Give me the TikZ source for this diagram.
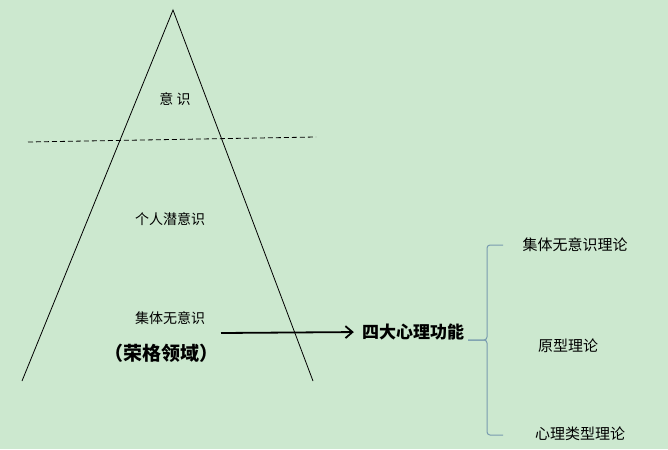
\documentclass[tikz,border=0pt]{standalone}
\usepackage{fontspec}
\newfontfamily\cjk{Noto Sans CJK SC}
\usetikzlibrary{positioning, arrows.meta}
\definecolor{eyegreen}{RGB}{204,232,207}
\definecolor{bracegray}{RGB}{120,155,175}

\begin{document}
\begin{tikzpicture}[x=1pt, y=-1pt]
		\tikzstyle{label}=[font=\cjk\fontsize{14}{16}\selectfont, inner sep=0pt]
		\tikzstyle{bold}=[font=\cjk\bfseries\fontsize{17}{19}\selectfont, inner sep=0pt]
		\tikzstyle{connect}=[-{Straight Barb[length=7pt, width=12pt]}, line width=1.8pt]
		\tikzstyle{brace}=[draw=bracegray, line width=1pt, rounded corners=3pt]
		
		\fill[eyegreen] (0,0) rectangle (668,449);
		\useasboundingbox (0,0) rectangle (668,449);
		
		% triangle and threshold
		\coordinate (apex) at (173,10);
		\coordinate (left) at (22,381);
		\coordinate (right) at (313,381);
		\draw[line width=0.8pt] (left) -- (apex) -- (right);
		\coordinate (dashl) at (28,142);
		\coordinate (dashr) at (316,137);
		\draw[dashed, line width=0.8pt, dash pattern=on 5pt off 3pt] (dashl) -- (dashr);
		
		\node[label] (conscious) at (175,99) {意 识};
		\node[label] (personal) at (170,219) {个人潜意识};
		\node[label] (collective) at (170,318) {集体无意识};
		\node[bold, font=\cjk\bfseries\fontsize{19}{21}\selectfont] (jung) at (161,353) {（荣格领域）};
		
		\node[bold] (func) at (413,332) {四大心理功能};
		
		\coordinate (arrowstart) at (221,333);
		\path (arrowstart) edge [connect, shorten >=8pt] (func.west);
		
		% brace
		\coordinate (tip) at (468,340);
		\draw[brace] (503,245) -- (487,245) -- (487,340) -- (tip);
		\draw[brace] (503,435) -- (487,435) -- (487,340) -- (tip);
		
		\node[label, font=\cjk\fontsize{15}{17}\selectfont] (theory1) at (575,245) {集体无意识理论};
		\node[label, font=\cjk\fontsize{15}{17}\selectfont] (theory2) at (568,346) {原型理论};
		\node[label, font=\cjk\fontsize{15}{17}\selectfont] (theory3) at (580,434) {心理类型理论};
		
	\end{tikzpicture}
\end{document}
